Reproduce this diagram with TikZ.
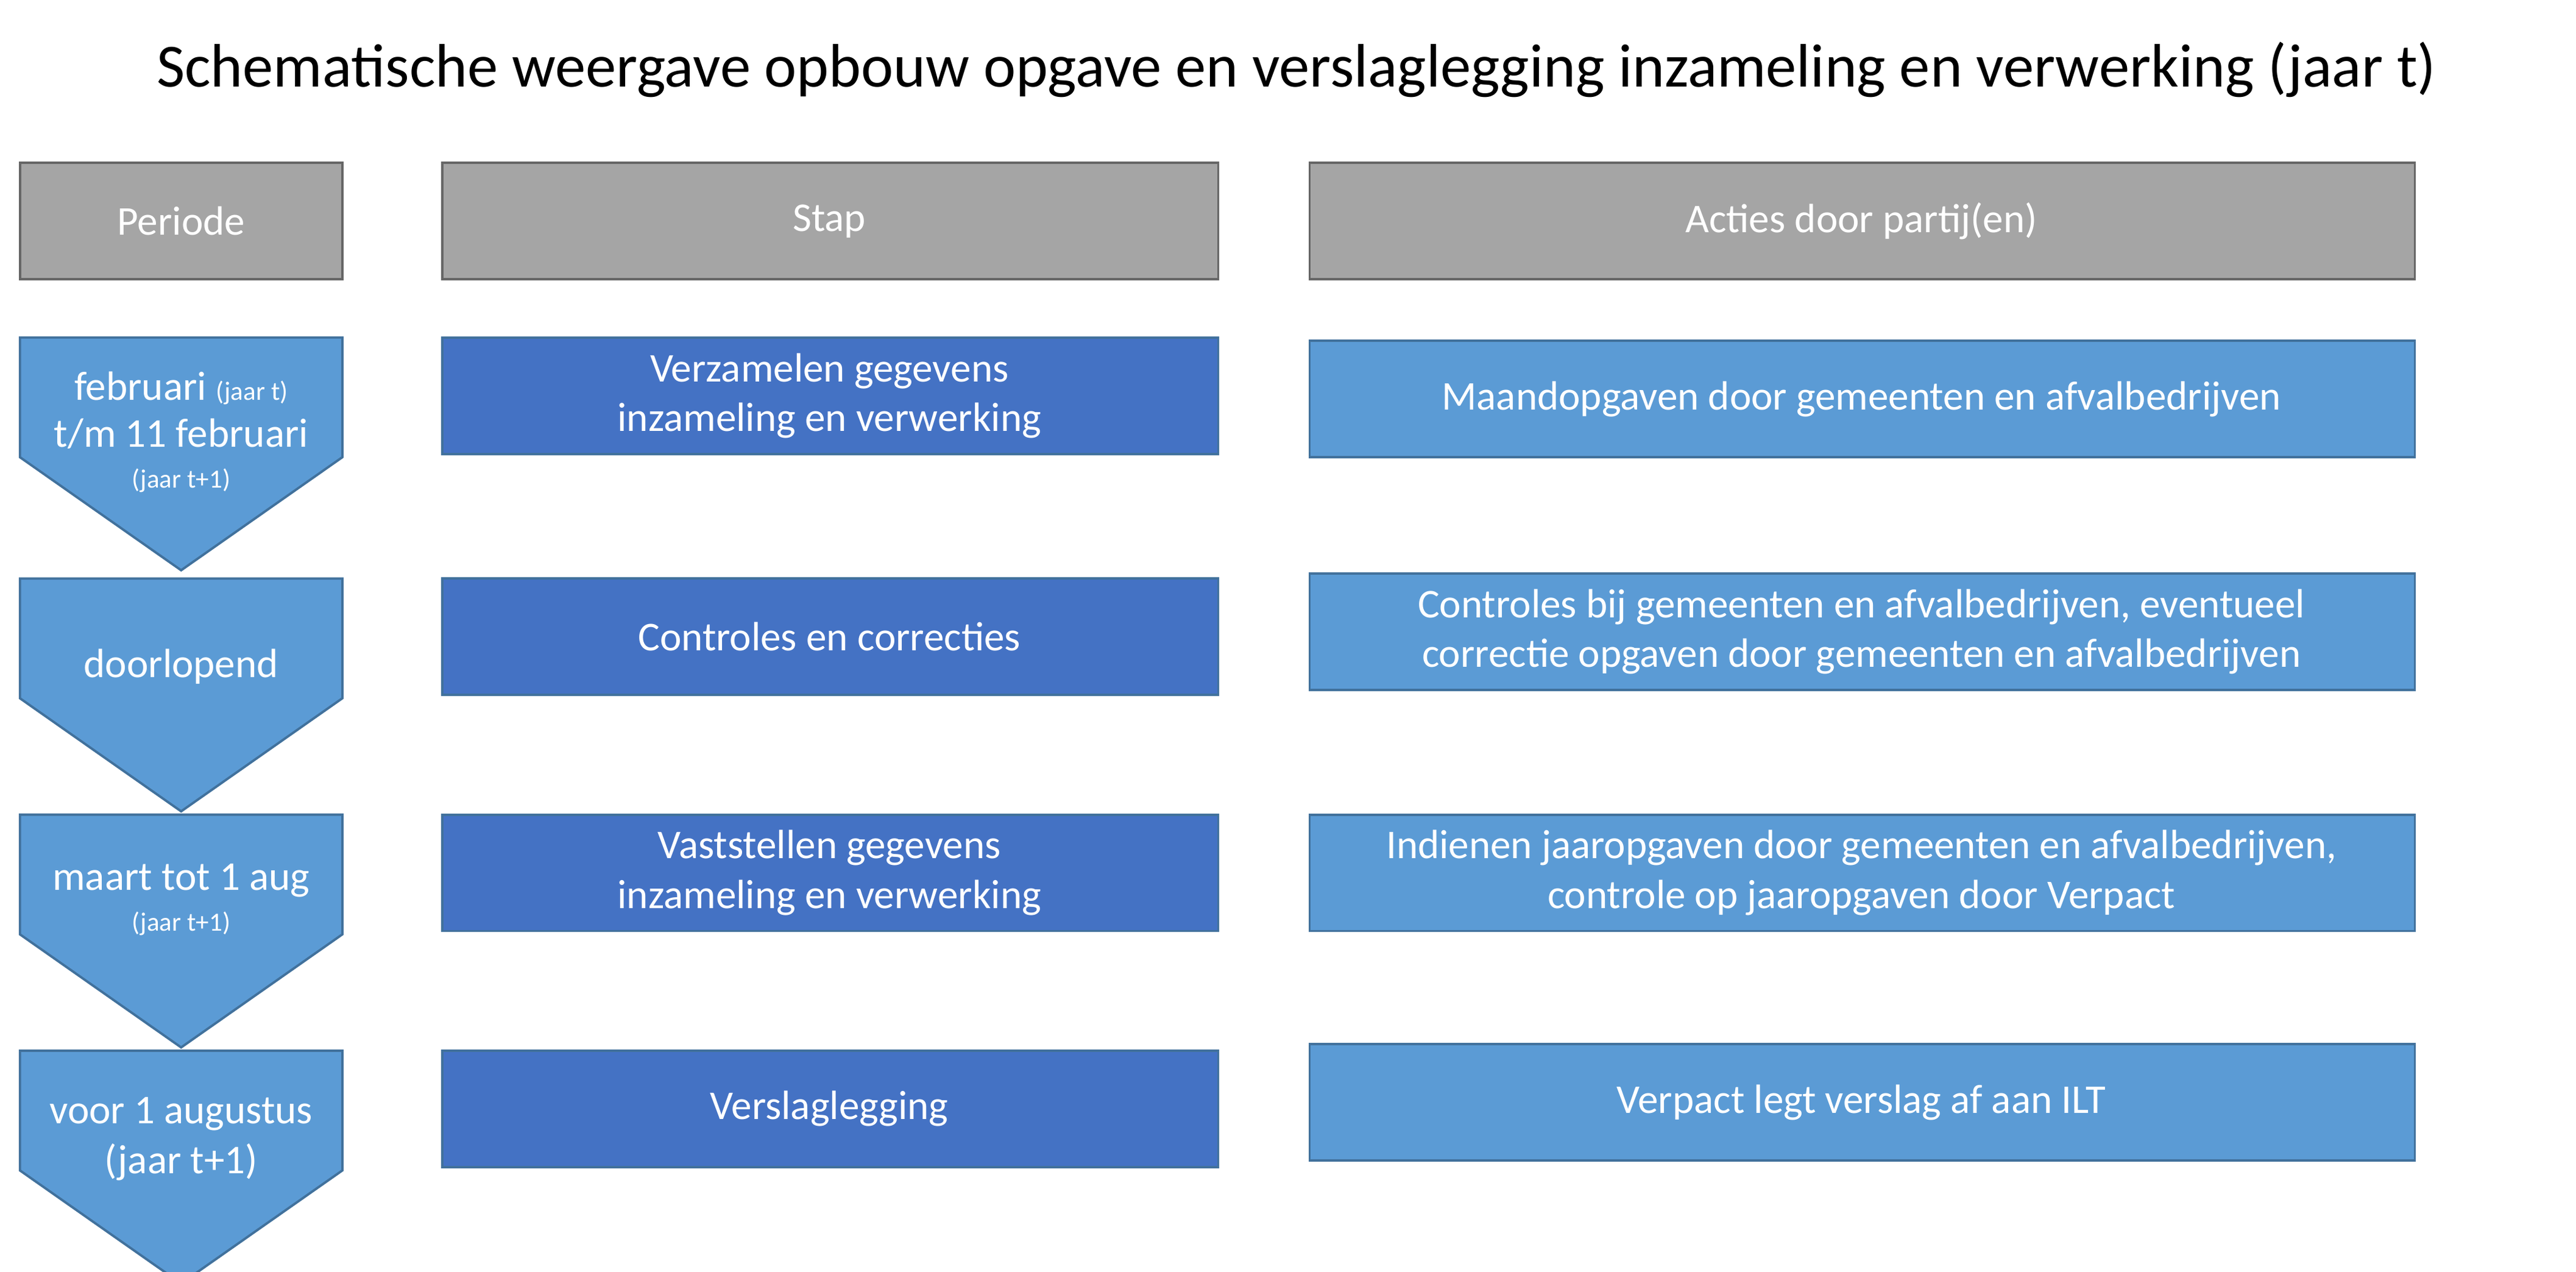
\documentclass[tikz,border=0pt]{standalone}
\usepackage{fontspec}
\setmainfont{Carlito}
\usetikzlibrary{positioning}
\definecolor{headgray}{HTML}{A5A5A5}
\definecolor{stapblue}{HTML}{4472C4}
\definecolor{actblue}{HTML}{5B9BD5}
\definecolor{edgeblue}{HTML}{41719C}
\begin{document}
\begin{tikzpicture}[x=0.02cm,y=-0.02cm,
        every node/.style={font=\fontsize{14}{17}\selectfont, text=white, align=center, inner sep=0pt},
        head/.style={draw=gray!80!black, fill=headgray, line width=0.8pt},
        stapbox/.style={draw=edgeblue, fill=stapblue, line width=0.8pt},
        actbox/.style={draw=edgeblue, fill=actblue, line width=0.8pt},
        arrowbox/.style={draw=edgeblue, fill=actblue, line width=0.8pt},
        small/.style={font=\fontsize{9}{11}\selectfont}
      ]
      \useasboundingbox (0,0) rectangle (1550,765);
      \node (title) [text=black, font=\fontsize{21}{25}\selectfont] at (780,42)
        {Schematische weergave opbouw opgave en verslaglegging inzameling en verwerking (jaar t)};
      % headers
      \draw [head] (12,98) rectangle (206,168);
      \draw [head] (266,98) rectangle (733,168);
      \draw [head] (788,98) rectangle (1453,168);
      \node (hper) at (109,133) {Periode};
      \node (hstap) at (499,133) {Stap};
      \node (hact) at (1120,133) {Acties door partij(en)};
      % period arrows
      \foreach \t in {203,348,490,632}
        \draw [arrowbox] (12,\t) -- (206,\t) -- (206,\t+72) -- (109,\t+140) -- (12,\t+72) -- cycle;
      \node (p1) at (109,260) {februari {\fontsize{9}{11}\selectfont(jaar t)}\\[-1pt] t/m 11 februari\\[-3pt]{\fontsize{9}{11}\selectfont(jaar t+1)}};
      \node (p2) at (109,401) {doorlopend};
      \node (p3) at (109,541) {maart tot 1 aug\\[-3pt]{\fontsize{9}{11}\selectfont(jaar t+1)}};
      \node (p4) at (109,685) {voor 1 augustus\\ (jaar t+1)};
      % steps
      \draw [stapbox] (266,203) rectangle (733,273);
      \draw [stapbox] (266,348) rectangle (733,418);
      \draw [stapbox] (266,490) rectangle (733,560);
      \draw [stapbox] (266,632) rectangle (733,702);
      \node (s1) at (499,238) {Verzamelen gegevens\\ inzameling en verwerking};
      \node (s2) at (499,383) {Controles en correcties};
      \node (s3) at (499,525) {Vaststellen gegevens\\ inzameling en verwerking};
      \node (s4) at (499,667) {Verslaglegging};
      % actions
      \draw [actbox] (788,205) rectangle (1453,275);
      \draw [actbox] (788,345) rectangle (1453,415);
      \draw [actbox] (788,490) rectangle (1453,560);
      \draw [actbox] (788,628) rectangle (1453,698);
      \node (a1) at (1120,240) {Maandopgaven door gemeenten en afvalbedrijven};
      \node (a2) at (1120,380) {Controles bij gemeenten en afvalbedrijven, eventueel\\ correctie opgaven door gemeenten en afvalbedrijven};
      \node (a3) at (1120,525) {Indienen jaaropgaven door gemeenten en afvalbedrijven,\\ controle op jaaropgaven door Verpact};
      \node (a4) at (1120,663) {Verpact legt verslag af aan ILT};
    \end{tikzpicture}
\end{document}
